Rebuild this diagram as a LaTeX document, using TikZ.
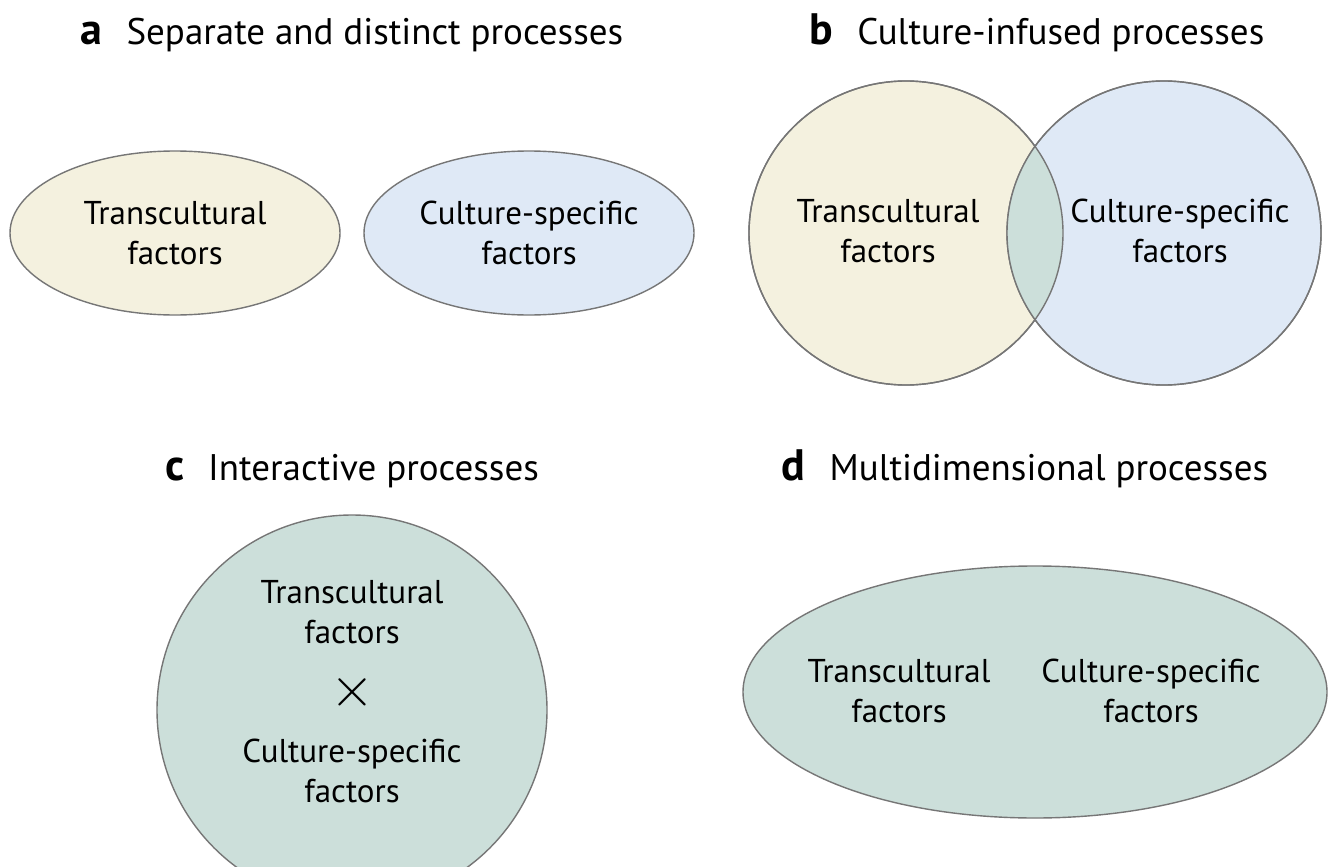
\documentclass[tikz,border=0pt]{standalone}
\usepackage{graphicx}
\usepackage{fontspec}
\setmainfont{PT Sans}
\usetikzlibrary{shapes.geometric}
\definecolor{transyellow}{HTML}{F4F1DF}
\definecolor{specblue}{HTML}{DFE9F6}
\definecolor{mixgreen}{HTML}{CCDFDA}
\definecolor{rimgray}{HTML}{767676}
\newcommand\labelfont{\fontsize{33}{40}\selectfont}
\newcommand\headfont{\fontsize{37}{40}\selectfont}
\newcommand\panel[1]{{\fontsize{44}{44}\selectfont\bfseries #1}\hspace{24pt}}

\begin{document}
\begin{tikzpicture}[x=1pt,y=-1pt,
  blob/.style={ellipse,draw=rimgray,line width=1.4pt,inner sep=0pt,align=center,font=\labelfont},
  words/.style={align=center,inner sep=0pt,font=\labelfont},
  heading/.style={anchor=base,inner sep=0pt,font=\headfont}]
\useasboundingbox[fill=white] (0,0) rectangle (1334,867);

\node[heading] (ta) at (352,45) {\panel{a}Separate and distinct processes};
\node[blob,fill=transyellow,minimum width=330pt,minimum height=164pt] (a1) at (175,233) {Transcultural\\factors};
\node[blob,fill=specblue,minimum width=330pt,minimum height=164pt] (a2) at (529,233) {Culture-specific\\factors};

\node[heading] (tb) at (1037,45) {\panel{b}Culture-infused processes};
\node[blob,fill=transyellow,minimum width=314pt,minimum height=304pt] (b1) at (906,233) {};
\node[blob,fill=specblue,minimum width=314pt,minimum height=304pt] (b2) at (1164,233) {};
\begin{scope}
\clip (b1.center) ellipse [x radius=157, y radius=152];
\fill[mixgreen] (b2.center) ellipse [x radius=157, y radius=152];
\end{scope}
\draw[rimgray,line width=1.4pt] (b1.center) ellipse [x radius=157, y radius=152];
\draw[rimgray,line width=1.4pt] (b2.center) ellipse [x radius=157, y radius=152];
\node[words] (b1t) at (888,231) {Transcultural\\factors};
\node[words] (b2t) at (1180,231) {Culture-specific\\factors};

\node[heading] (tc) at (352,480) {\panel{c}Interactive processes};
\node[blob,fill=mixgreen,minimum width=390pt,minimum height=390pt] (c1) at (352,710) {};
\node[words] (c1t) at (352,612) {Transcultural\\factors};
\node[inner sep=0pt] (times) at (352,692) {\resizebox{44pt}{!}{$\times$}};
\node[words] (c2t) at (352,771) {Culture-specific\\factors};

\node[heading] (td) at (1025,480) {\panel{d}Multidimensional processes};
\node[blob,fill=mixgreen,minimum width=584pt,minimum height=252pt] (d1) at (1035,692) {};
\node[words] (d1t) at (899,691) {Transcultural\\factors};
\node[words] (d2t) at (1151,691) {Culture-specific\\factors};
\end{tikzpicture}
\end{document}
